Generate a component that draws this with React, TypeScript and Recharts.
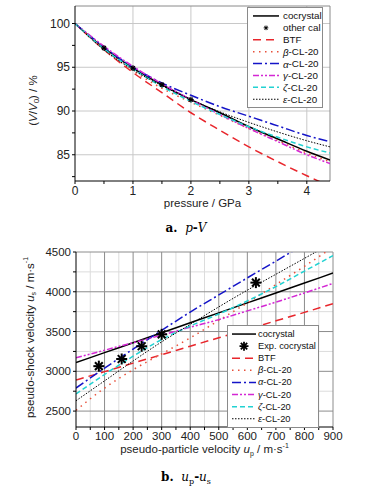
import React from 'react';
import {
  ComposedChart,
  Line,
  Scatter,
  XAxis,
  YAxis,
  CartesianGrid,
  ReferenceLine,
} from 'recharts';

// p-V data (pressure in GPa, V/V0 in %)
const pressure = [0, 0.5, 1, 1.5, 2, 2.5, 3, 3.5, 4, 4.4];
const pvCocrystal = [100, 97.2, 94.9, 93.0, 91.3, 89.8, 88.2, 86.8, 85.4, 84.4];
const pvBTF = [100, 97.0, 94.4, 92.1, 89.8, 87.8, 85.9, 84.2, 82.6, 81.4];
const pvBeta = [100, 97.0, 94.6, 92.6, 91.0, 89.5, 88.0, 86.6, 85.2, 84.2];
const pvAlpha = [100, 97.3, 95.0, 93.2, 91.8, 90.5, 89.4, 88.3, 87.2, 86.5];
const pvGamma = [100, 97.4, 95.1, 93.1, 91.3, 89.6, 88.0, 86.5, 85.0, 84.0];
const pvZeta = [100, 97.1, 94.8, 92.8, 91.1, 89.6, 88.2, 87.0, 85.9, 85.2];
const pvEpsilon = [100, 97.0, 94.7, 92.9, 91.3, 89.9, 88.7, 87.6, 86.6, 85.9];
const calPressure = [0.5, 1, 1.5, 2];
const calVolume = [97.2, 94.9, 93.0, 91.3];

// up-us data (m/s)
const up = [0, 100, 200, 300, 400, 500, 600, 700, 800, 900];
const usCocrystal = [3110, 3235, 3360, 3485, 3610, 3735, 3860, 3985, 4110, 4235];
const usBTF = [2890, 2996, 3103, 3209, 3316, 3422, 3528, 3635, 3741, 3850];
const usBeta = [2510, 2790, 3020, 3220, 3420, 3640, 3860, 4090, 4320, 4560];
const usAlpha = [2790, 3040, 3280, 3515, 3745, 3960, 4175, 4385, 4600, 4810];
const usGamma = [3170, 3265, 3360, 3455, 3555, 3650, 3760, 3870, 3985, 4105];
const usZeta = [2715, 2960, 3190, 3400, 3570, 3720, 3885, 4065, 4260, 4455];
const usEpsilon = [2630, 2880, 3130, 3370, 3590, 3810, 4020, 4220, 4420, 4620];
const expUp = [80, 160, 230, 300, 630];
const expUs = [3065, 3155, 3315, 3465, 4115];

const pTicks = [0, 0.5, 1, 1.5, 2, 2.5, 3, 3.5, 4];
const vTicks = [82.5, 85, 87.5, 90, 92.5, 95, 97.5, 100];
const upTicks = [0, 50, 100, 150, 200, 250, 300, 350, 400, 450, 500, 550, 600, 650, 700, 750, 800, 850, 900];
const usTicks = [2500, 2750, 3000, 3250, 3500, 3750, 4000, 4250, 4500];

const pvRows = pressure.map((p, i) => ({
  p,
  cocrystal: pvCocrystal[i],
  btf: pvBTF[i],
  beta: pvBeta[i],
  alpha: pvAlpha[i],
  gamma: pvGamma[i],
  zeta: pvZeta[i],
  eps: pvEpsilon[i],
}));
const calRows = calPressure.map((p, i) => ({ p, cal: calVolume[i] }));

const usRows = up.map((u, i) => ({
  up: u,
  cocrystal: usCocrystal[i],
  btf: usBTF[i],
  beta: usBeta[i],
  alpha: usAlpha[i],
  gamma: usGamma[i],
  zeta: usZeta[i],
  eps: usEpsilon[i],
}));
const expRows = expUp.map((u, i) => ({ up: u, exp: expUs[i] }));

const FONT = '"Liberation Sans", Arial, sans-serif';

type Style = { key: string; name: React.ReactNode; color: string; dash?: string; width: number };

const series = (marker: React.ReactNode): Style[] => [
  { key: 'cocrystal', name: 'cocrystal', color: '#000000', width: 1.5 },
  { key: 'marker', name: marker, color: '#000000', width: 0 },
  { key: 'btf', name: 'BTF', color: '#e8262c', dash: '8 5', width: 1.5 },
  { key: 'beta', name: <><tspan fontStyle="italic">β</tspan>-CL-20</>, color: '#e8503a', dash: '1.5 4.5', width: 1.5 },
  { key: 'alpha', name: <><tspan fontStyle="italic">α</tspan>-CL-20</>, color: '#1414c8', dash: '9 3 2 3', width: 1.5 },
  { key: 'gamma', name: <><tspan fontStyle="italic">γ</tspan>-CL-20</>, color: '#d427d4', dash: '6 2 2 2 2 2', width: 1.5 },
  { key: 'zeta', name: <><tspan fontStyle="italic">ζ</tspan>-CL-20</>, color: '#22d2d2', dash: '5 3', width: 1.5 },
  { key: 'eps', name: <><tspan fontStyle="italic">ε</tspan>-CL-20</>, color: '#000000', dash: '1.5 1.5', width: 1 },
];

const Asterisk = ({ cx, cy, r, w }: { cx: number; cy: number; r: number; w: number }) => {
  const arms = [0, 45, 90, 135];
  return (
    <g>
      {arms.map((a) => {
        const rad = (a * Math.PI) / 180;
        const dx = Math.cos(rad) * r;
        const dy = Math.sin(rad) * r;
        return <line key={a} x1={cx - dx} y1={cy - dy} x2={cx + dx} y2={cy + dy} stroke="#000" strokeWidth={w} />;
      })}
    </g>
  );
};

const LegendBox = ({ items, rowH, fontSize, markerR, markerW, width, left, top, lineX, textX }: any) => (
  <svg
    width={width}
    height={items.length * rowH + 4}
    style={{ position: 'absolute', left, top, background: '#fff', border: '1px solid #8a8a8a' }}
  >
    {items.map((s: Style, i: number) => {
      const y = i * rowH + rowH / 2 + 2;
      return (
        <g key={s.key}>
          {s.key === 'marker' ? (
            <Asterisk cx={(lineX[0] + lineX[1]) / 2} cy={y} r={markerR} w={markerW} />
          ) : (
            <line x1={lineX[0]} x2={lineX[1]} y1={y} y2={y} stroke={s.color} strokeWidth={s.width} strokeDasharray={s.dash} />
          )}
          <text x={textX} y={y} dominantBaseline="central" fontSize={fontSize} fontFamily={FONT} fill="#111">
            {s.name}
          </text>
        </g>
      );
    })}
  </svg>
);

const XTitle = ({ viewBox, dy, children }: any) => (
  <text x={viewBox.x + viewBox.width / 2} y={viewBox.y + dy} textAnchor="middle" fontSize={11.5} fontFamily={FONT} fill="#222">
    {children}
  </text>
);

const YTitle = ({ viewBox, cx, dy, children }: any) => {
  const cy = viewBox.y + viewBox.height / 2 + dy;
  return (
    <text transform={`translate(${cx},${cy}) rotate(-90)`} textAnchor="middle" dominantBaseline="central" fontSize={11.5} fontFamily={FONT} fill="#222">
      {children}
    </text>
  );
};

const makeTick = (isMajor: (v: number) => boolean, fontSize: number, vertical: boolean) => (props: any) => {
  const { x, y, payload } = props;
  if (!isMajor(payload.value)) return <g />;
  return (
    <text
      x={x}
      y={y}
      textAnchor={vertical ? 'end' : 'middle'}
      dominantBaseline={vertical ? 'central' : 'hanging'}
      fontSize={fontSize}
      fontFamily={FONT}
      fill="#222"
    >
      {payload.value}
    </text>
  );
};

const lines = (items: Style[]) =>
  items
    .filter((s) => s.key !== 'marker')
    .map((s) => (
      <Line
        key={s.key}
        type="monotone"
        dataKey={s.key}
        stroke={s.color}
        strokeWidth={s.width}
        strokeDasharray={s.dash}
        dot={false}
        isAnimationActive={false}
      />
    ));

const caption: React.CSSProperties = {
  position: 'absolute',
  left: 0,
  width: 372,
  textAlign: 'center',
  fontFamily: '"DejaVu Serif", "Liberation Serif", serif',
  fontSize: 12,
};

export default function App() {
  const topItems = series('other cal');
  const bottomItems = series('Exp. cocrystal');
  return (
    <div style={{ position: 'absolute', left: 0, top: 0, width: 372, height: 489, background: '#fff' }}>
      <div style={{ position: 'absolute', left: 0, top: 0 }}>
        <ComposedChart width={372} height={215} data={pvRows} margin={{ top: 6, right: 42, bottom: 0, left: 0 }}>
          <CartesianGrid stroke="#c8c8c8" strokeWidth={1} horizontalValues={[85, 90, 95, 100]} verticalValues={[1, 2, 3, 4]} />
          <XAxis
            dataKey="p"
            type="number"
            domain={[0, 4.4]}
            ticks={pTicks}
            interval={0}
            allowDataOverflow
            height={34}
            stroke="#000"
            tickSize={3}
            tick={makeTick((v) => Number.isInteger(v), 12, false)}
            label={<XTitle dy={26}>pressure / GPa</XTitle>}
          />
          <YAxis
            type="number"
            domain={[82, 102]}
            ticks={vTicks}
            interval={0}
            allowDataOverflow
            width={75}
            stroke="#000"
            tickSize={3}
            tick={makeTick((v) => v % 5 === 0, 12, true)}
            label={
              <YTitle cx={33} dy={7}>
                (<tspan fontStyle="italic">V</tspan>/<tspan fontStyle="italic">V</tspan>
                <tspan fontSize={8} dy={3}>0</tspan>
                <tspan dy={-3}>) / %</tspan>
              </YTitle>
            }
          />
          <ReferenceLine y={102} stroke="#8a8a8a" />
          <ReferenceLine x={4.4} stroke="#8a8a8a" />
          {lines(topItems)}
          <Scatter
            data={calRows}
            dataKey="cal"
            isAnimationActive={false}
            shape={(pr: any) => <Asterisk cx={pr.cx} cy={pr.cy} r={2.8} w={1.2} />}
          />
        </ComposedChart>
        <LegendBox
          items={topItems}
          rowH={11.9}
          fontSize={9.8}
          markerR={2.3}
          markerW={1}
          width={74}
          left={247}
          top={7}
          lineX={[5, 31]}
          textX={35}
        />
      </div>
      <div style={{ ...caption, top: 221 }}>
        <b>a.</b>&nbsp;&nbsp;<i>p</i>
        <b>-</b>
        <i>V</i>
      </div>
      <div style={{ position: 'absolute', left: 0, top: 240 }}>
        <ComposedChart width={372} height={225} data={usRows} margin={{ top: 12, right: 39, bottom: 10, left: 0 }}>
          <CartesianGrid stroke="#dcdcdc" strokeWidth={1} horizontalValues={[2750, 3250, 3750, 4250]} verticalValues={[50, 150, 250, 350, 450, 550, 650, 750, 850]} />
          <CartesianGrid stroke="#8c8c8c" strokeWidth={1} horizontalValues={[2500, 3000, 3500, 4000, 4500]} verticalValues={[100, 200, 300, 400, 500, 600, 700, 800, 900]} />
          <XAxis
            dataKey="up"
            type="number"
            domain={[0, 900]}
            ticks={upTicks}
            interval={0}
            allowDataOverflow
            height={28}
            stroke="#000"
            tickSize={3}
            tick={makeTick((v) => v % 100 === 0, 11.5, false)}
            label={
              <XTitle dy={26}>
                pseudo-particle velocity <tspan fontStyle="italic">u</tspan>
                <tspan fontSize={7} dy={3}>p</tspan>
                <tspan dy={-3}> / m·s</tspan>
                <tspan fontSize={7} dy={-5}>-1</tspan>
              </XTitle>
            }
          />
          <YAxis
            type="number"
            domain={[2300, 4500]}
            ticks={usTicks}
            interval={0}
            allowDataOverflow
            width={76}
            stroke="#000"
            tickSize={3}
            tick={makeTick((v) => v % 500 === 0, 11.5, true)}
            label={
              <YTitle cx={30} dy={-2}>
                pseudo-shock velocity <tspan fontStyle="italic">u</tspan>
                <tspan fontSize={7} dy={3}>s</tspan>
                <tspan dy={-3}> / m·s</tspan>
                <tspan fontSize={7} dy={-5}>-1</tspan>
              </YTitle>
            }
          />
          {lines(bottomItems)}
          <Scatter
            data={expRows}
            dataKey="exp"
            isAnimationActive={false}
            shape={(pr: any) => <Asterisk cx={pr.cx} cy={pr.cy} r={5.5} w={2} />}
          />
        </ComposedChart>
        <LegendBox
          items={bottomItems}
          rowH={12.1}
          fontSize={9.3}
          markerR={4.5}
          markerW={1.8}
          width={90}
          left={227}
          top={85}
          lineX={[4, 28]}
          textX={30}
        />
      </div>
      <div style={{ ...caption, top: 470 }}>
        <b>b.</b>&nbsp;&nbsp;<i>u</i>
        <sub style={{ fontSize: 8 }}>p</sub>
        <b>-</b>
        <i>u</i>
        <sub style={{ fontSize: 8 }}>s</sub>
      </div>
    </div>
  );
}
